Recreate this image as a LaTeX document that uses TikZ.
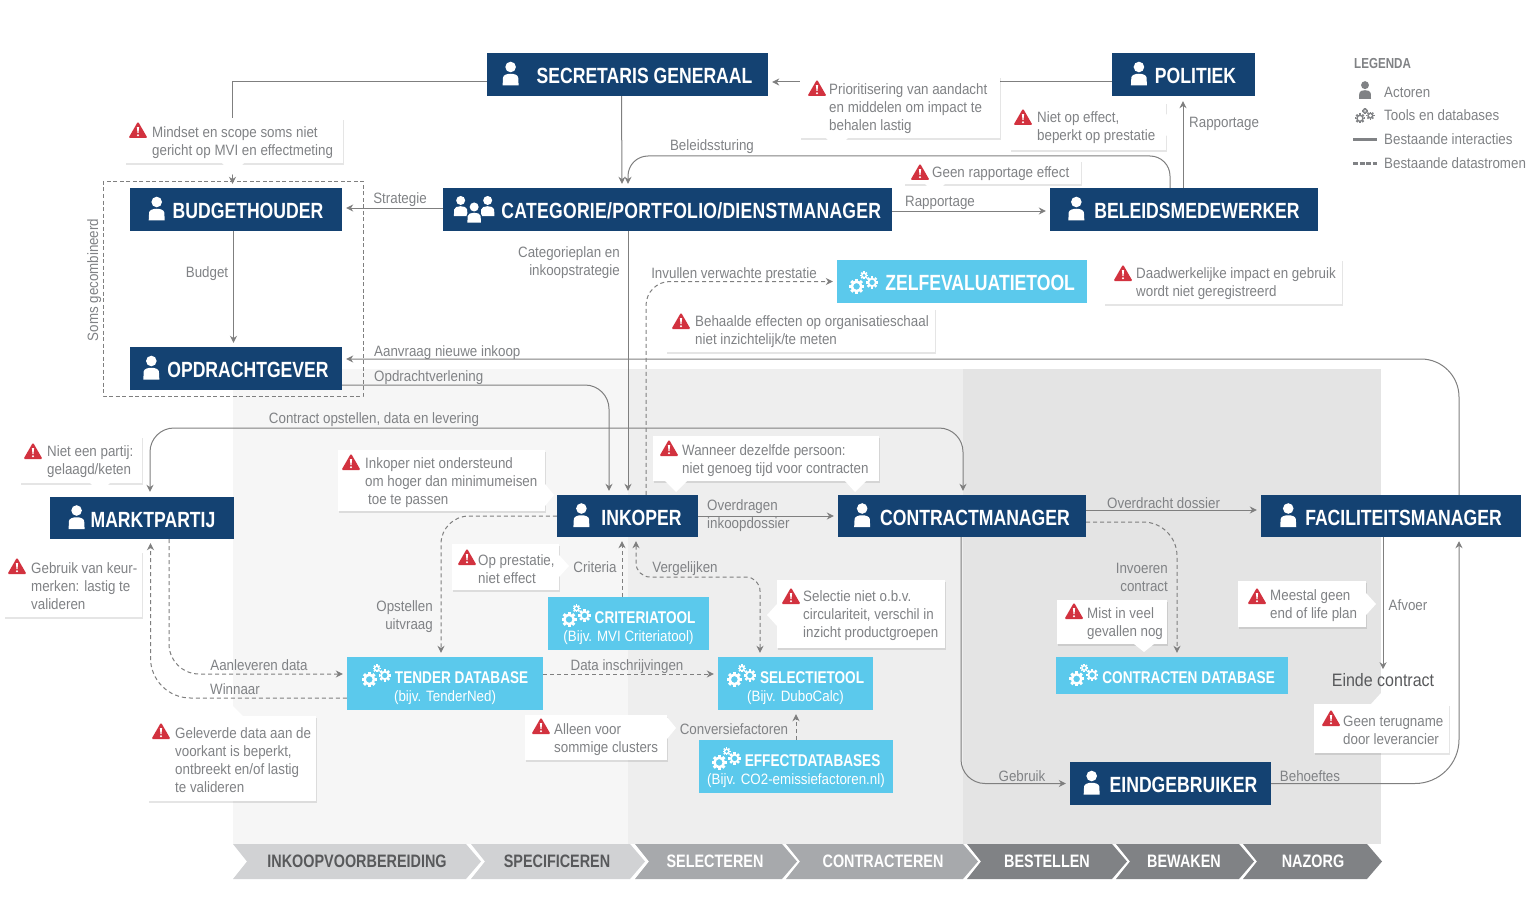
\documentclass[tikz,border=0pt]{standalone}
\usepackage{fontspec}
\usetikzlibrary{arrows.meta,shadows}
\setmainfont[FakeStretch=0.89]{Liberation Sans}
\newfontfamily\titlefont[FakeStretch=0.8]{Liberation Sans}
\definecolor{navy}{HTML}{144272}
\definecolor{sky}{HTML}{5BC9EC}
\definecolor{txtgray}{HTML}{808285}
\definecolor{linegray}{HTML}{7F7F7F}
\definecolor{warnred}{HTML}{D2323F}
\definecolor{stageA}{HTML}{F6F6F6}
\definecolor{stageB}{HTML}{EEEEEE}
\definecolor{stageC}{HTML}{E4E4E4}
\definecolor{chevA}{HTML}{D1D2D4}
\definecolor{chevB}{HTML}{A7A9AC}
\definecolor{chevC}{HTML}{808285}
\definecolor{darktxt}{HTML}{58595B}
\newcommand{\gearwheel}[3]{
  \fill[shift={(#1,#2)},even odd rule] (0,0) circle ({#3*.76}) (0,0) circle ({#3*.45});
  \foreach \a in {0,45,...,315}
    \fill[shift={(#1,#2)},rotate=\a] ({#3*.7},{-#3*.2}) rectangle ({#3},{#3*.2});
}
\tikzset{
  person/.pic={
    \fill (0,-6.5) circle (5.3);
    \fill (-8,12) -- (-7.6,4) .. controls (-7,-1) and (7,-1) .. (7.6,4) -- (8,12) -- cycle;
  },
  gears/.pic={
    \gearwheel{-7.5}{3.5}{7.5}
    \gearwheel{8}{-0.5}{6.2}
    \gearwheel{0}{-7.5}{4}
  },
  warn/.pic={
    \fill[warnred,rounded corners=1.2] (-9.5,8) -- (0,-8.5) -- (9.5,8) -- cycle;
    \fill[white] (-1.1,-2.8) -- (1.1,-2.8) -- (0.5,3) -- (-0.5,3) -- cycle;
    \fill[white] (0,5.2) circle (1.1);
  },
  actor/.style n args={2}{fill=navy,text=white,minimum width=#1,minimum height=#2,inner sep=0,
    text height=18pt,text depth=0pt,font=\titlefont\bfseries\fontsize{22}{24}\selectfont},
  tool/.style n args={3}{fill=sky,text=white,minimum width=#1,minimum height=#2,inner sep=0,align=center,
    font=\titlefont\bfseries\fontsize{#3}{18}\selectfont},
  lbl/.style={text=txtgray,inner sep=0,text height=14pt,text depth=2pt,font=\fontsize{15}{18}\selectfont},
  multilbl/.style={text=txtgray,inner sep=0,font=\fontsize{15}{18}\selectfont},
  stagelbl/.style={inner sep=0,font=\titlefont\bfseries\fontsize{18}{20}\selectfont},
  flow/.style={draw=linegray,line width=1pt,shorten >=4pt,-{Stealth[length=7pt,width=7pt]}},
  dataflow/.style={flow,dash pattern=on 4pt off 3pt},
  note/.style n args={3}{fill=white,anchor=north west,text=txtgray,
    text width=#1,minimum height=#2,inner xsep=0,inner ysep=0,align=flush left,
    font=\fontsize{15}{18}\selectfont,execute at begin node={\leftskip=#3pt\leavevmode\rule{0pt}{14pt}},
    drop shadow={shadow xshift=.6pt,shadow yshift=-2pt,fill=black,opacity=.1}},
}
\newcommand{\personicon}[1]{\smash{\tikz[baseline=-10pt,x=1pt,y=-1pt]\pic[white]{person};}\hspace{#1pt}}
\newcommand{\gearicon}[2]{\smash{\tikz[baseline=-8pt,x=1pt,y=-1pt]\pic[white]{gears};}\hspace{#1pt}\rule{0pt}{#2pt}}
\newcommand{\teamicon}{\smash{\tikz[baseline=-10pt,x=1pt,y=-1pt]{
  \pic[white,scale=.85] at (-13.5,-2.5) {person};
  \pic[white,scale=.85] at (13.5,-2.5) {person};
  \pic[navy,scale=1] at (0,3) {person};
  \pic[white,scale=.85] at (0,4) {person};}}\hspace{7pt}}
\newcommand{\subline}{\rmfamily\mdseries\fontsize{15}{18}\selectfont}
\begin{document}
\begin{tikzpicture}[x=1pt,y=-1pt]
  \useasboundingbox (0,0) rectangle (1538,912);
  \fill[stageA] (233,369) rectangle (628,844);
  \fill[stageB] (628,369) rectangle (963,844);
  \fill[stageC] (963,369) rectangle (1381,844);
  \foreach \xa/\xb/\c in {233/466/chevA,471/630/chevA,635/782/chevB,786/963/chevB,967/1112/chevC,1116/1239/chevC,1243/1367/chevC}
    \fill[\c] (\xa,844) -- (\xb,844) -- (\xb+15,861.5) -- (\xb,879) -- (\xa,879) -- (\xa+14,861.5) -- cycle;
  \node[stagelbl,text=darktxt] (stage1) at (357,861) {INKOOPVOORBEREIDING};
  \node[stagelbl,text=darktxt] (stage2) at (557,861) {SPECIFICEREN};
  \node[stagelbl,text=white] (stage3) at (715,861) {SELECTEREN};
  \node[stagelbl,text=white] (stage4) at (883,861) {CONTRACTEREN};
  \node[stagelbl,text=white] (stage5) at (1047,861) {BESTELLEN};
  \node[stagelbl,text=white] (stage6) at (1184,861) {BEWAKEN};
  \node[stagelbl,text=white] (stage7) at (1313,861) {NAZORG};

  \draw[linegray,line width=.8pt,dash pattern=on 4pt off 2.5pt] (103,181) rectangle (363,396);

  \node[actor={281}{43}] (sg) at (627.5,74.5) {\personicon{18}SECRETARIS GENERAAL};
  \node[actor={143}{43}] (pol) at (1183.5,74.5) {\personicon{8}POLITIEK};
  \node[actor={212}{43}] (bud) at (236,209.5) {\personicon{8}BUDGETHOUDER};
  \node[actor={449}{43}] (cat) at (667.5,209.5) {\teamicon\addfontfeatures{LetterSpace=1.2}CATEGORIE/PORTFOLIO/DIENSTMANAGER};
  \node[actor={268}{43}] (bel) at (1184,209.5) {\personicon{10}BELEIDSMEDEWERKER};
  \node[actor={212}{43}] (opd) at (236,368.5) {\personicon{8}OPDRACHTGEVER};
  \node[actor={184}{42}] (mar) at (142,518) {\personicon{6}MARKTPARTIJ};
  \node[actor={141}{42}] (ink) at (627.5,516) {\personicon{12}INKOPER};
  \node[actor={248}{42}] (con) at (962,516) {\personicon{10}CONTRACTMANAGER};
  \node[actor={260}{42}] (fac) at (1391,516) {\personicon{9}FACILITEITSMANAGER};
  \node[actor={201}{43}] (ein) at (1170.5,783.5) {\personicon{10}EINDGEBRUIKER};

  \node[tool={250}{43}{22}] (zelf) at (962,281.5) {\gearicon{7}{19}ZELFEVALUATIETOOL};
  \node[tool={196}{53}{17}] (tender) at (445,683.5) {\gearicon{4}{22}TENDER DATABASE\\{\subline(bijv. TenderNed)}};
  \node[tool={161}{53}{17}] (crit) at (628.5,623.5) {\gearicon{4}{22}CRITERIATOOL\\{\subline(Bijv. MVI Criteriatool)}};
  \node[tool={155}{53}{17}] (sel) at (795.5,683.5) {\gearicon{4}{22}SELECTIETOOL\\{\subline(Bijv. DuboCalc)}};
  \node[tool={194}{53}{17}] (eff) at (796,766.5) {\gearicon{4}{22}EFFECTDATABASES\\{\subline(Bijv. CO2-emissiefactoren.nl)}};
  \node[tool={232}{37}{17}] (cdb) at (1172,675.5) {\gearicon{4}{16}CONTRACTEN DATABASE};
  \node[text=darktxt,inner sep=0,font=\fontsize{18}{20}\selectfont] (einde) at (1383,680) {Einde contract};

  \coordinate (bs) at (628,156);
  \coordinate (ct) at (560,428);
  \coordinate (vg) at (700,577);
  \draw[flow] ([yshift=-7.5]sg.west) -| ([xshift=-3.5]bud.north);
  \draw[flow] ([yshift=-7.5]pol.west) -- ([yshift=-7.5]sg.east);
  \draw[flow] ([xshift=-6]sg.south) -- ([xshift=-45.5]cat.north);
  \draw[flow,rounded corners=20pt] ([xshift=-14]bel.north) |- (bs) -- ([xshift=-39.5]cat.north);
  \draw[flow] ([xshift=-1]bel.north) -- ([xshift=-0.5,yshift=-1]pol.south);
  \draw[flow] ([yshift=-1.5]cat.east) -- ([yshift=-1.5]bel.west);
  \draw[flow] ([yshift=1.5]cat.west) -- ([yshift=1.5]bud.east);
  \draw[flow] ([xshift=-2.5]bud.south) -- ([xshift=-2.5]opd.north);
  \draw[flow] ([xshift=-39.5]cat.south) -- ([xshift=0.5]ink.north);
  \draw[flow,rounded corners=24pt] ([yshift=-16.5]opd.east) -| ([xshift=-18.5]ink.north);
  \draw[flow,rounded corners=38pt] ([xshift=68]fac.north) |- ([yshift=9.5]opd.east);
  \draw[flow,{Stealth[length=7pt,width=7pt]}-{Stealth[length=7pt,width=7pt]},shorten <=5pt,rounded corners=24pt] ([xshift=8]mar.north) |- (ct) -| ([xshift=1]con.north);
  \draw[flow] (ink.east) -- (con.west);
  \draw[flow] ([yshift=6]con.east) -- ([yshift=6]fac.west);
  \draw[flow,rounded corners=24pt] ([xshift=-1]con.south) |- (ein.west);
  \draw[flow,rounded corners=44pt] (ein.east) -| ([xshift=68]fac.south);
  \draw[flow] ([xshift=-8]fac.south) -- (einde.north);

  \draw[dataflow,rounded corners=24pt] ([xshift=18.5]ink.north) |- (zelf.west);
  \draw[dataflow,rounded corners=28pt] (ink.west) -| ([xshift=-4]tender.north);
  \draw[dataflow] ([xshift=-6.5]crit.north) -- ([xshift=-5.5]ink.south);
  \draw[dataflow,{Stealth[length=7pt,width=7pt]}-{Stealth[length=7pt,width=7pt]},shorten <=4pt,rounded corners=14pt] ([xshift=8.5]ink.south) |- (vg) -| ([xshift=-35.5]sel.north);
  \draw[dataflow] ([yshift=9.5]tender.east) -- ([yshift=9.5]sel.west);
  \draw[dataflow] (eff.north) -- ([xshift=0.5]sel.south);
  \draw[dataflow,rounded corners=30pt] ([xshift=27]mar.south) |- ([yshift=9.5]tender.west);
  \draw[dataflow,rounded corners=40pt] ([yshift=-14.5]tender.west) -| ([xshift=8.5]mar.south);
  \draw[dataflow,rounded corners=34pt] ([yshift=-6]con.east) -| ([xshift=5]cdb.north);

  \node[note={218}{45}{27}] (n1) at (125,118) {Mindset en scope soms niet\\gericht op MVI en effectmeting};
  \pic at (138,130) {warn};
  \node[note={200}{62}{29}] (n2) at (800,76) {Prioritisering van aandacht\\en middelen om impact te\\behalen lastig};
  \pic at (817,88) {warn};
  \node[note={156}{48}{27}] (n3) at (1010,102) {Niet op effect,\\beperkt op prestatie};
  \pic at (1023,117) {warn};
  \node[note={177}{24}{28}] (n4) at (904,160) {Geen rapportage effect};
  \pic at (920,172) {warn};
  \node[note={238}{45}{32}] (n5) at (1104,259) {Daadwerkelijke impact en gebruik\\wordt niet geregistreerd};
  \pic at (1123,273) {warn};
  \node[note={269}{44}{29}] (n6) at (666,308) {Behaalde effecten op organisatieschaal\\niet inzichtelijk/te meten};
  \pic at (681,321) {warn};
  \node[note={122}{47}{27}] (n7) at (20,436) {Niet een partij:\\gelaagd/keten};
  \pic at (33,451) {warn};
  \node[note={138}{66}{27}] (n8) at (4,551) {Gebruik van keur-\\merken: lastig te\\valideren};
  \pic at (17,566) {warn};
  \node[note={207}{61}{27}] (n9) at (338,450) {Inkoper niet ondersteund\\om hoger dan minimumeisen\\\hspace*{3pt}toe te passen};
  \pic at (351,462) {warn};
  \node[note={226}{45}{29}] (n10) at (653,436) {Wanneer dezelfde persoon:\\niet genoeg tijd voor contracten};
  \pic at (669,448) {warn};
  \node[note={107}{46}{26}] (n11) at (452,544) {Op prestatie,\\niet effect};
  \pic at (467,557) {warn};
  \node[note={168}{85}{27}] (n12) at (148,716) {Geleverde data aan de\\voorkant is beperkt,\\ontbreekt en/of lastig\\te valideren};
  \pic at (161,731) {warn};
  \node[note={142}{45}{29}] (n13) at (525,715) {Alleen voor\\sommige clusters};
  \pic at (541,726) {warn};
  \node[note={168}{68}{26}] (n14) at (777,580) {Selectie niet o.b.v.\\circulariteit, verschil in\\inzicht productgroepen};
  \pic at (791,596) {warn};
  \node[note={110}{44}{30}] (n15) at (1057,600) {Mist in veel\\gevallen nog};
  \pic at (1074,611) {warn};
  \node[note={128}{46}{32}] (n16) at (1238,581) {Meestal geen\\end of life plan};
  \pic at (1257,596) {warn};
  \node[note={135}{49}{29}] (n17) at (1314,704) {Geen terugname\\door leverancier};
  \pic at (1331,718) {warn};
  \foreach \ax/\ay/\tx/\ty/\bx/\by in {222/163/233/175/244/163,826/138/836/149/848/138,1166/114/1180/125/1166/136,
      925/184/935/193/945/184,1104/271/1096/282/1104/293,735/308/745/295/757/308,90/483/100/492/110/483,
      90/551/100/542/110/551,545/484/554/495/545/506,665/481/676/492/687/481,845/481/855/492/866/481,
      559/555/569/566/559/577,223/716/233/706/243/716,667/717/676/728/667/739,777/604/767/615/777/626,
      1134/644/1144/652/1154/644,1366/593/1376/604/1366/615,1371/704/1381/693/1391/704}
    \fill[white] (\ax,\ay) -- (\tx,\ty) -- (\bx,\by) -- cycle;

  \node[lbl] (l1) at (712,145) {Beleidssturing};
  \node[lbl,anchor=west] (l2) at (1189,122) {Rapportage};
  \node[lbl] (l3) at (400,198) {Strategie};
  \node[lbl] (l4) at (940,200) {Rapportage};
  \node[lbl] (l5) at (207,271) {Budget};
  \node[lbl,rotate=90] (l6) at (92,280) {Soms gecombineerd};
  \node[multilbl,anchor=east,align=right] (l7) at (620,262.5) {Categorieplan en\\inkoopstrategie};
  \node[lbl] (l8) at (734,272) {Invullen verwachte prestatie};
  \node[lbl,anchor=west] (l9) at (374,350) {Aanvraag nieuwe inkoop};
  \node[lbl,anchor=west] (l10) at (374,375) {Opdrachtverlening};
  \node[lbl] (l11) at (374,417) {Contract opstellen, data en levering};
  \node[multilbl,anchor=west,align=left] (l12) at (707,516) {Overdragen\\inkoopdossier};
  \node[lbl,anchor=west] (l13) at (1107,502) {Overdracht dossier};
  \node[lbl] (l14) at (595,566) {Criteria};
  \node[lbl] (l15) at (685,566) {Vergelijken};
  \node[multilbl,anchor=east,align=right] (l16) at (433,617) {Opstellen\\uitvraag};
  \node[multilbl,anchor=east,align=right] (l17) at (1168,577) {Invoeren\\contract};
  \node[lbl] (l18) at (1408,604) {Afvoer};
  \node[lbl] (l19) at (259,664) {Aanleveren data};
  \node[lbl] (l20) at (235,688) {Winnaar};
  \node[lbl] (l21) at (627,664) {Data inschrijvingen};
  \node[lbl] (l22) at (734,728) {Conversiefactoren};
  \node[lbl] (l23) at (1022,775) {Gebruik};
  \node[lbl] (l24) at (1310,775) {Behoeftes};

  \node[lbl,anchor=west,font=\titlefont\bfseries\fontsize{14.5}{18}\selectfont] (leg) at (1354,63) {LEGENDA};
  \pic[txtgray,scale=.75] at (1365,90) {person};
  \pic[txtgray,scale=.67] at (1365,116) {gears};
  \draw[txtgray,line width=3pt] (1353,139.5) -- (1377,139.5);
  \draw[txtgray,line width=3pt,dash pattern=on 5pt off 1.5pt] (1353,163.5) -- (1377,163.5);
  \node[lbl,anchor=west] (leg1) at (1384,92) {Actoren};
  \node[lbl,anchor=west] (leg2) at (1384,115) {Tools en databases};
  \node[lbl,anchor=west] (leg3) at (1384,139) {Bestaande interacties};
  \node[lbl,anchor=west] (leg4) at (1384,163) {Bestaande datastromen};
\end{tikzpicture}
\end{document}
